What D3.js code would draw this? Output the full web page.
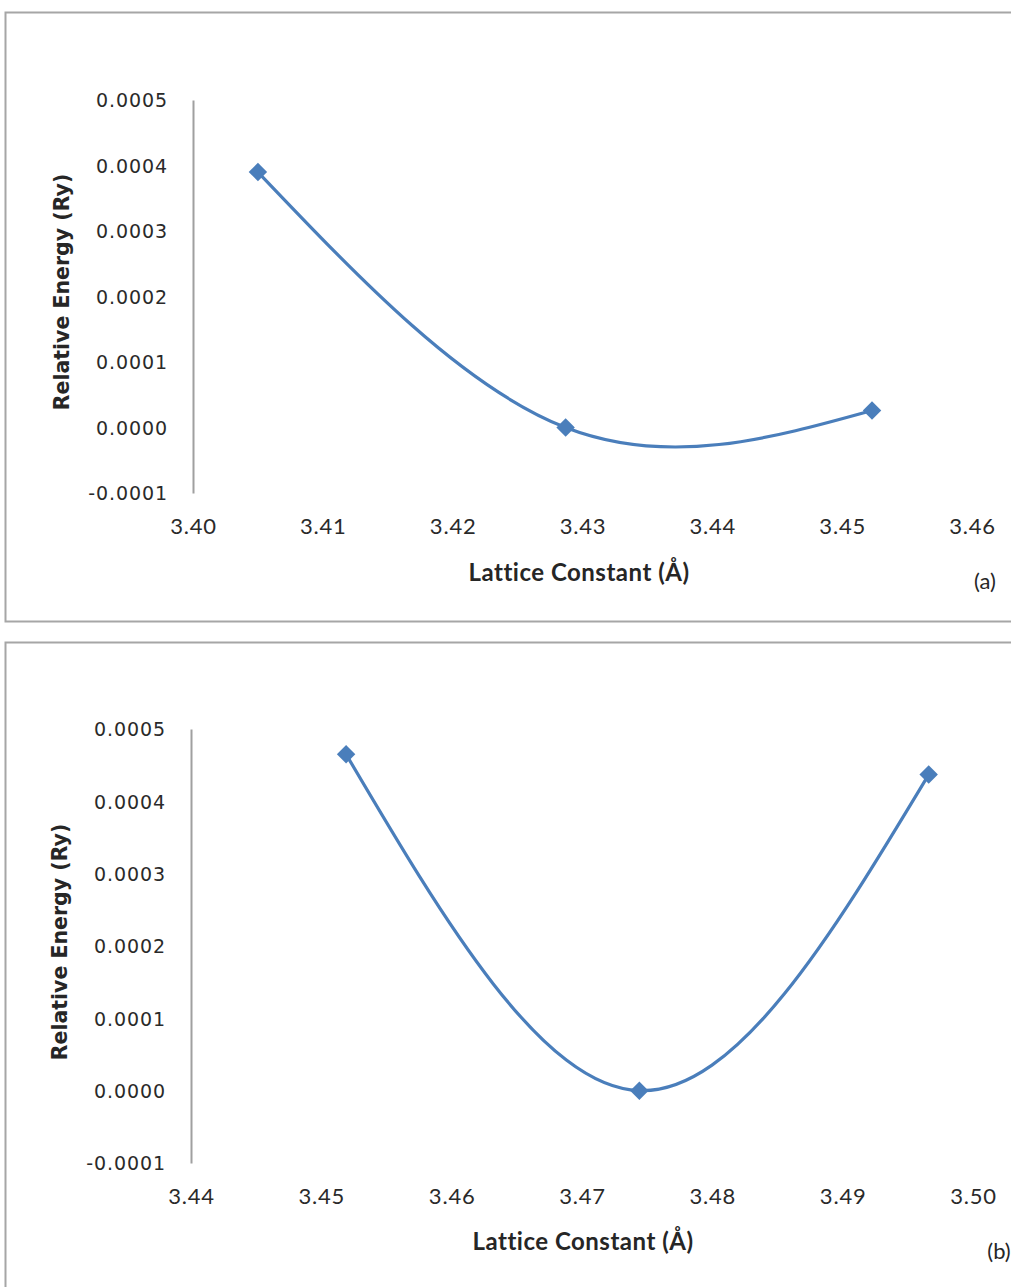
<!DOCTYPE html>
<html>
<head>
<meta charset="utf-8">
<script src="https://cdn.jsdelivr.net/npm/d3@7"></script>
<style>
  html, body { margin: 0; padding: 0; background: #ffffff; }
  svg { display: block; }
  .ytick text { font-family: "DejaVu Sans", Verdana, sans-serif; font-size: 19px; fill: #2a2a2a; letter-spacing: 0.9px; }
  .xtick text { font-family: Lato, "Open Sans", sans-serif; font-size: 22px; fill: #2a2a2a; letter-spacing: 0.8px; }
  .ytitle { font-family: "DejaVu Sans", Verdana, sans-serif; font-size: 20.5px; font-weight: bold; fill: #262626; }
  .xtitle { font-family: Lato, "Open Sans", sans-serif; font-size: 24px; font-weight: bold; fill: #262626; letter-spacing: 0.5px; }
  .tag { font-family: Lato, "Open Sans", sans-serif; font-size: 22px; fill: #262626; }
</style>
</head>
<body>
<svg id="chart" width="1011" height="1287"></svg>
<script>
// Panel (a): lattice constant (Å) vs relative energy (Ry)
const latticeA = [3.405, 3.4287, 3.4523];
const energyA  = [0.00039, 0.0, 0.000026];

// Panel (b)
const latticeB = [3.4519, 3.4744, 3.4966];
const energyB  = [0.000465, 0.0, 0.000437];

// Axis ticks
const energyTicks = [-0.0001, 0.0, 0.0001, 0.0002, 0.0003, 0.0004, 0.0005];
const latticeTicksA = [3.40, 3.41, 3.42, 3.43, 3.44, 3.45, 3.46];
const latticeTicksB = [3.44, 3.45, 3.46, 3.47, 3.48, 3.49, 3.50];

const panels = [
  { xs: latticeA, ys: energyA, xTicks: latticeTicksA, tag: "(a)",
    frame: { x: 5.5, y: 12.5, w: 1020, h: 609 },
    plot: { left: 193, right: 972, top: 100, bottom: 493 },
    yTitle: { x: 62, y: 292 }, xTitle: { x: 579, y: 581 }, tagPos: { x: 985, y: 589 } },
  { xs: latticeB, ys: energyB, xTicks: latticeTicksB, tag: "(b)",
    frame: { x: 5.5, y: 642.5, w: 1020, h: 660 },
    plot: { left: 191, right: 973, top: 729, bottom: 1163 },
    yTitle: { x: 60, y: 942 }, xTitle: { x: 583, y: 1250 }, tagPos: { x: 999, y: 1259 } }
];

const svg = d3.select("#chart");
svg.append("rect").attr("width", 1011).attr("height", 1287).attr("fill", "#ffffff");

const blue = "#4a7ebb";
// plain hyphen for negative values
const energyFmt = d => d3.format(".4f")(d).replace("\u2212", "-");

panels.forEach(p => {
  // chart frame
  svg.append("rect")
    .attr("x", p.frame.x).attr("y", p.frame.y)
    .attr("width", p.frame.w).attr("height", p.frame.h)
    .attr("fill", "none").attr("stroke", "#a6a6a6").attr("stroke-width", 2);

  const x = d3.scaleLinear()
    .domain([p.xTicks[0], p.xTicks[p.xTicks.length - 1]])
    .range([p.plot.left, p.plot.right]);
  const y = d3.scaleLinear()
    .domain([energyTicks[0], energyTicks[energyTicks.length - 1]])
    .range([p.plot.bottom, p.plot.top]);

  // vertical axis
  const gy = svg.append("g").attr("class", "ytick")
    .attr("transform", `translate(${p.plot.left},0)`)
    .call(d3.axisLeft(y).tickValues(energyTicks).tickSize(0).tickPadding(25)
      .tickFormat(energyFmt));
  gy.select(".domain").attr("stroke", "#a0a0a0").attr("stroke-width", 2);
  gy.selectAll("text").attr("dy", "0.36em");

  // horizontal axis labels (no axis line)
  const gx = svg.append("g").attr("class", "xtick")
    .attr("transform", `translate(0,${p.plot.bottom})`)
    .call(d3.axisBottom(x).tickValues(p.xTicks).tickSize(0).tickPadding(25)
      .tickFormat(d3.format(".2f")));
  gx.select(".domain").remove();

  // titles
  svg.append("text").attr("class", "ytitle")
    .attr("transform", `translate(${p.yTitle.x},${p.yTitle.y}) rotate(-90)`)
    .attr("text-anchor", "middle").attr("dy", "0.35em")
    .text("Relative Energy (Ry)");
  svg.append("text").attr("class", "xtitle")
    .attr("x", p.xTitle.x).attr("y", p.xTitle.y)
    .attr("text-anchor", "middle")
    .text("Lattice Constant (Å)");
  svg.append("text").attr("class", "tag")
    .attr("x", p.tagPos.x).attr("y", p.tagPos.y)
    .attr("text-anchor", "middle")
    .text(p.tag);

  const pts = p.xs.map((v, i) => [v, p.ys[i]]);

  // smoothed series line
  const line = d3.line().x(d => x(d[0])).y(d => y(d[1])).curve(d3.curveNatural);
  svg.append("path").datum(pts)
    .attr("d", line)
    .attr("fill", "none").attr("stroke", blue).attr("stroke-width", 3.2)
    .attr("stroke-linejoin", "round");

  // diamond markers
  svg.selectAll(null).data(pts).enter().append("path")
    .attr("d", d3.symbol(d3.symbolSquare, 170)())
    .attr("transform", d => `translate(${x(d[0])},${y(d[1])}) rotate(45)`)
    .attr("fill", blue);
});
</script>
</body>
</html>
